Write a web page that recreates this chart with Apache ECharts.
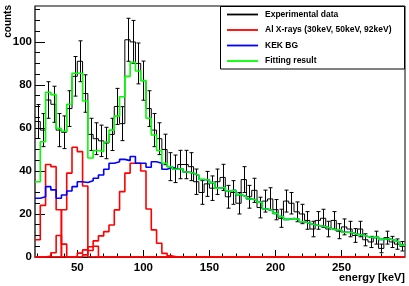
<!DOCTYPE html>
<html><head><meta charset="utf-8">
<script src="https://cdn.jsdelivr.net/npm/echarts@6/dist/echarts.min.js"></script>
<style>html,body{margin:0;padding:0;background:#fff}#c{width:409px;height:286px}</style>
</head><body><div id="c"></div>
<script>
// histogram binning (keV)
const BIN_LOW = 18, BIN_WIDTH = 4, X_MAX = 298;
const Y_MAX = 116.7;

const experimentalCounts = [63,59,73,71,59,58,69,84,91,76, 57,55,54,53,57,70,62,101,100,90,
  82,69,59,55,50,42,41,43,43,42, 35,30,34,32,35,37,28,30,25,36,
  28,31,23,26,27,22,18,26,25,21, 20,17,13,17,18,13,17,12,14,13,
  10,13,8,7,9,4,9,7,6,5];
const experimentalErrors = [7.9,7.7,8.5,8.4,7.7,7.6,8.3,9.2,9.5,8.7, 7.5,7.4,7.3,7.3,7.5,8.4,7.9,10,10,9.5,
  9.1,8.3,7.7,7.4,7.1,6.5,6.4,6.6,6.6,6.5, 5.9,5.5,5.8,5.7,5.9,6.1,5.3,5.5,5,6,
  5.3,5.6,4.8,5.1,5.2,4.7,4.2,5.1,5,4.6, 4.5,4.1,3.6,4.1,4.2,3.6,4.1,3.5,3.7,3.6,
  3.2,3.6,2.8,2.6,3,2,3,2.6,2.4,2.2];
const alXray30 = [8,24,43,42,22,0,0,0,0,1,3,5,0,0,0,0,0,0,0,0, 0,0,0,0,0,0,0,0,0,0, 0,0,0,0,0,0,0,0,0,0, 0,0,0,0,0,0,0,0,0,0, 0,0,0,0,0,0,0,0,0,0, 0,0,0,0,0,0,0,0,0,0];
const alXray50 = [0,0,0,0,0,22,39,51,49,33,0,0,0,0,0,0,0,0,0,0, 0,0,0,0,0,0,0,0,0,0, 0,0,0,0,0,0,0,0,0,0, 0,0,0,0,0,0,0,0,0,0, 0,0,0,0,0,0,0,0,0,0, 0,0,0,0,0,0,0,0,0,0];
const alXray92 = [0,0,0.5,2,10,6,0,0,1.8,3.3, 4.8,7.5,9.8,11.8,14.9,21.9,30.4,39,43.6,43.6,
  40,22.3,12.6,6.4,1.7,0.5,0,0,0,0, 0,0,0,0,0,0,0,0,0,0, 0,0,0,0,0,0,0,0,0,0, 0,0,0,0,0,0,0,0,0,0, 0,0,0,0,0,0,0,0,0,0];
const kekBG = [27.3,28,32.7,31.2,27.3,28.8,30.7,32.7,35,34.6, 35.5,36.6,38.1,40.8,43.6,44.3,45.4,44.8,46.7,43.6,
  43.6,41.7,44.3,43.6,40.8,41.7,40.8,41,39.5,38.9, 38,36,35.8,34.6,32,32.4,30.8,31,29,28.1,
  27,26.5,25.5,22.3,21.5,20.3,18.8,17.5,17.9,17.5, 16.4,15.7,14.9,14.5,14.1,13.4,12.6,12.6,11.5,11.4,
  10.5,10.2,9.5,9,9.3,8.2,8.5,7.8,7,5.5];
const fitResult = [35,53.6,76.6,75.5,59.8,58.5,71,85.4,85.4,72.5, 46,49.5,49,53.5,59,65.5,74.5,84,90.5,86.5,
  82,64.5,56.7,49.5,43.6,42,40.8,41,39.5,38.9, 38,36,35.8,34.6,32,32.4,30.8,31,29,28.1,
  27,26.5,25.5,22.3,21.5,20.3,18.8,17.5,17.9,17.5, 16.4,15.7,14.9,14.5,14.1,13.4,12.6,12.6,11.5,11.4,
  10.5,10.2,9.5,9,9.3,8.2,8.5,7.8,7,5.5];

const xMajorTicks = [50,100,150,200,250];
const xMinorTicks = [20,30,40,60,70,80,90,110,120,130,140,160,170,180,190,210,220,230,240,260,270,280,290];
const yMajorTicks = [0,20,40,60,80,100];
const yMinorTicks = [5,10,15,25,30,35,45,50,55,65,70,75,85,90,95,105,110,115];
const legendLabels = ['Experimental data','Al X-rays (30keV, 50keV, 92keV)','KEK BG','Fitting result'];
const legendColors = ['#000000','#ff0000','#0000ff','#00ff00'];
const xTitle = 'energy [keV]', yTitle = 'counts';

function stepPoints(vals){
  const pts = vals.map((v,i)=>[BIN_LOW + i*BIN_WIDTH, v]);
  pts.push([BIN_LOW + vals.length*BIN_WIDTH, vals[vals.length-1]]);
  return pts;
}
function stepSeries(name, vals, color, w, z){
  return {name, type:'line', step:'end', data: stepPoints(vals), symbol:'none', clip:false,
    lineStyle:{color, width:w}, z, silent:true, animation:false};
}
const FONT = '"Liberation Sans", Arial, sans-serif';
const labelStyle = {color:'#000', fontFamily:FONT, fontWeight:'bold', fontSize:11.5};

const errData = experimentalCounts.map((v,i)=>[BIN_LOW + (i+0.5)*BIN_WIDTH, v, experimentalErrors[i]]);

const chart = echarts.init(document.getElementById('c'), null, {renderer:'canvas'});
const rowY = [14.5, 30, 45.5, 61];
const graphics = [
  {type:'text', x:8, y:5, rotation:Math.PI/2, z:100,
    style:{text:yTitle, fill:'#000', font:'bold 10px '+FONT, align:'right', verticalAlign:'middle', textAlign:'right', textVerticalAlign:'middle'}},
  {type:'text', x:405, y:278, z:100,
    style:{text:xTitle, fill:'#000', font:'bold 11px '+FONT, align:'right', verticalAlign:'middle', textAlign:'right', textVerticalAlign:'middle'}},
  {type:'rect', z:90, shape:{x:220.5, y:6.5, width:184, height:62.5}, style:{fill:'#fff', stroke:'#000', lineWidth:1}}
];
legendLabels.forEach((t,i)=>{
  graphics.push({type:'line', z:95, shape:{x1:227, y1:rowY[i], x2:258, y2:rowY[i]}, style:{stroke:legendColors[i], lineWidth:1.8}});
  graphics.push({type:'text', z:95, x:265, y:rowY[i], style:{text:t, fill:'#000', font:'bold 8.5px '+FONT, align:'left', verticalAlign:'middle', textAlign:'left', textVerticalAlign:'middle'}});
});

chart.setOption({
  animation:false,
  backgroundColor:'#fff',
  grid:{left:35, right:4, top:6, bottom:29, show:true, borderColor:'#000', borderWidth:1, backgroundColor:'transparent'},
  xAxis:[
    {type:'value', min:BIN_LOW, max:X_MAX, position:'bottom',
      axisLine:{show:true, lineStyle:{color:'#000', width:1}},
      axisTick:{show:true, inside:true, length:7, customValues:xMajorTicks, lineStyle:{color:'#000'}},
      axisLabel:{...labelStyle, margin:5, customValues:xMajorTicks},
      splitLine:{show:false}},
    {type:'value', min:BIN_LOW, max:X_MAX, position:'bottom',
      axisLine:{show:false},
      axisTick:{show:true, inside:true, length:3.5, customValues:xMinorTicks, lineStyle:{color:'#000'}},
      axisLabel:{show:false, customValues:xMinorTicks},
      splitLine:{show:false}}
  ],
  yAxis:[
    {type:'value', min:0, max:Y_MAX, position:'left',
      axisLine:{show:true, lineStyle:{color:'#555', width:1.5}},
      axisTick:{show:true, inside:true, length:10, customValues:yMajorTicks, lineStyle:{color:'#000'}},
      axisLabel:{...labelStyle, margin:3, customValues:yMajorTicks},
      splitLine:{show:false}},
    {type:'value', min:0, max:Y_MAX, position:'left',
      axisLine:{show:false},
      axisTick:{show:true, inside:true, length:5, customValues:yMinorTicks, lineStyle:{color:'#000'}},
      axisLabel:{show:false, customValues:yMinorTicks},
      splitLine:{show:false}}
  ],
  graphic: graphics,
  series:[
    stepSeries('Experimental data', experimentalCounts, '#000', 1, 2),
    {name:'errors', type:'custom', data:errData, z:3, silent:true, clip:false,
      renderItem:function(params, api){
        const x = api.value(0), v = api.value(1), e = api.value(2);
        const top = api.coord([x, v+e]), bot = api.coord([x, v-e]);
        const cx = Math.round(top[0]) + 0.5;
        const st = {stroke:'#000', lineWidth:1};
        return {type:'group', children:[
          {type:'line', shape:{x1:cx, y1:top[1], x2:cx, y2:bot[1]}, style:st},
          {type:'line', shape:{x1:cx-2, y1:top[1], x2:cx+2, y2:top[1]}, style:st},
          {type:'line', shape:{x1:cx-2, y1:bot[1], x2:cx+2, y2:bot[1]}, style:st}
        ]};
      }},
    stepSeries('Al X-rays 30keV', alXray30, '#ff0000', 1.6, 4),
    stepSeries('Al X-rays 50keV', alXray50, '#ff0000', 1.6, 4),
    stepSeries('Al X-rays 92keV', alXray92, '#ff0000', 1.6, 4),
    stepSeries('KEK BG', kekBG, '#0000ff', 1.6, 5),
    stepSeries('Fitting result', fitResult, '#00ff00', 1.6, 6)
  ]
});
</script></body></html>
